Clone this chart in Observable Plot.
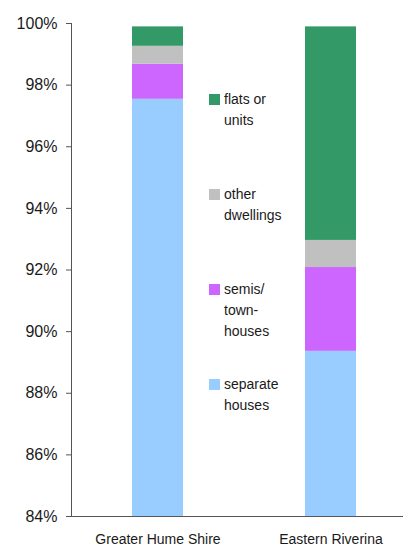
<!DOCTYPE html>
<html>
<head>
<meta charset="utf-8">
<script src="https://cdn.jsdelivr.net/npm/d3@7"></script>
<script src="https://cdn.jsdelivr.net/npm/@observablehq/plot@0.6"></script>
<style>
  body { margin: 0; background: #fff; font-family: "Liberation Sans", Arial, Helvetica, sans-serif; }
  #wrap { position: relative; width: 403px; height: 547px; }
  .leg { position: absolute; left: 209px; font-size: 14px; line-height: 21px; color: #1a1a1a; }
  .leg .sw { position: absolute; left: 0; width: 11px; height: 11px; top: 5px; }
  .leg .tx { position: absolute; left: 15px; top: 0; white-space: nowrap; }
</style>
</head>
<body>
<div id="wrap"></div>
<script>
const regions = ["Greater Hume Shire", "Eastern Riverina"];
const types = ["separate houses", "semis/town-houses", "other dwellings", "flats or units"];
const legendLabels = [["separate", "houses"], ["semis/", "town-", "houses"], ["other", "dwellings"], ["flats or", "units"]];
const colors = ["#99CCFF", "#CC66FF", "#C0C0C0", "#339966"];
const separateHouses = [97.54, 89.36];
const semis = [1.14, 2.72];
const otherDwellings = [0.58, 0.88];
const flats = [0.63, 6.93];
const yTicks = [84, 86, 88, 90, 92, 94, 96, 98, 100];

const series = [separateHouses, semis, otherDwellings, flats];
const rows = [];
types.forEach((t, i) => regions.forEach((r, j) => rows.push({region: r, type: t, value: series[i][j]})));

const chart = Plot.plot({
  width: 403,
  height: 547,
  marginLeft: 71,
  marginRight: 0,
  marginTop: 23,
  marginBottom: 31,
  style: {fontFamily: '"Liberation Sans", Arial, Helvetica, sans-serif', color: "#1a1a1a", background: "#fff"},
  x: {domain: regions, paddingInner: 0.705, paddingOuter: 0.312, align: 0.568, label: null},
  y: {domain: [84, 100], label: null},
  color: {domain: types, range: colors},
  marks: [
    Plot.barY(rows, {x: "region", y: "value", fill: "type", clip: true}),
    Plot.axisY({ticks: yTicks, tickFormat: d => d + "%", tickSize: 5, tickPadding: 9, fontSize: 16, stroke: "#555", label: null}),
    Plot.axisX({tickSize: 0, tickPadding: 18, fontSize: 14, label: null}),
    Plot.ruleY([84], {stroke: "#555"}),
    Plot.frame({anchor: "left", stroke: "#555"})
  ]
});

const wrap = document.getElementById("wrap");
wrap.appendChild(chart);

const legTops = [373.5, 278.5, 183.5, 88.5];
types.forEach((t, i) => {
  const d = document.createElement("div");
  d.className = "leg";
  d.style.top = legTops[i] + "px";
  d.innerHTML = `<div class="sw" style="background:${colors[i]}"></div><div class="tx">${legendLabels[i].join("<br>")}</div>`;
  wrap.appendChild(d);
});
</script>
</body>
</html>
